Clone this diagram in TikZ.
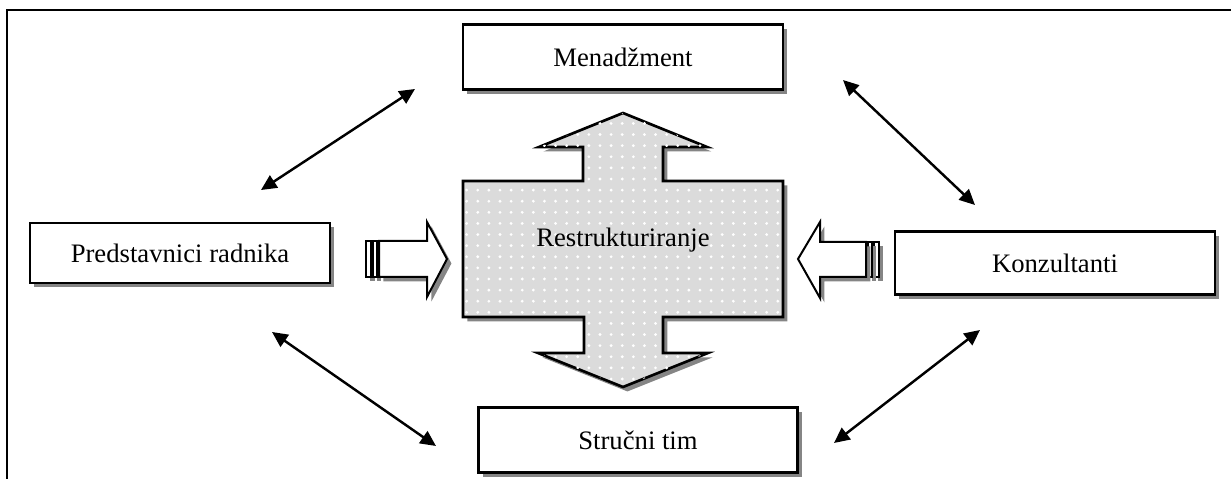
\documentclass[tikz,border=0pt]{standalone}
\usepackage{fontspec}
\setmainfont{Liberation Serif}
\usetikzlibrary{arrows.meta,shadows,patterns.meta}
\tikzdeclarepattern{
  name=sparsedots,
  type=uncolored,
  bounding box={(-2.5pt,-2.5pt) and (2.5pt,2.5pt)},
  tile size={(5pt,5pt)},
  code={\pgfpathcircle{\pgfpointorigin}{0.7pt}\pgfusepath{fill}}
}

\begin{document}
\begin{tikzpicture}[x=0.45pt, y=-0.45pt, line width=1.2pt,
  shade/.style={drop shadow={shadow xshift=2pt, shadow yshift=-2pt, fill=black!48, opacity=1}},
  box/.style={draw, fill=white, shade, font=\fontsize{12}{14}\selectfont},
  link/.style={line width=1.1pt, {Triangle[length=7pt,width=6.5pt]}-{Triangle[length=7pt,width=6.5pt]}},
  blockarrow/.style={draw, fill=white, line width=0.9pt, shade}]
			\useasboundingbox (0,0) rectangle (1231,479);
			\draw (1231,10) -- (7,10) -- (7,479);

			% boxes
			\node[box, minimum width=144pt, minimum height=29pt] (mgmt) at (623,57) {Menadžment};
			\node[box, minimum width=135pt, minimum height=27pt] (radnici) at (180,253) {Predstavnici radnika};
			\node[box, minimum width=144pt, minimum height=28.5pt] (konz) at (1055,263) {Konzultanti};
			\node[box, minimum width=143.5pt, minimum height=29.5pt] (tim) at (638,440) {Stručni tim};

			% central double arrow
			\draw[shade, fill=black!14, postaction={pattern=sparsedots, pattern color=white}]
				(463,181) -- (583,181) -- (583,147) -- (539,147) -- (623,113) -- (707,147) -- (663,147) -- (663,181)
				-- (783,181) -- (783,317) -- (663,317) -- (663,353) -- (708,353) -- (623,387) -- (538,353)
				-- (584,353) -- (584,317) -- (463,317) -- cycle;
			\node[font=\fontsize{12}{14}\selectfont] (restr) at (623,240) {Restrukturiranje};

			% side arrows
			\draw[blockarrow] (366,241) rectangle (371,277);
			\draw[blockarrow] (373,241) rectangle (377,277);
			\draw[blockarrow] (379,241) -- (427,241) -- (427,222) -- (447,259) -- (427,297) -- (427,277) -- (379,277) -- cycle;
			\draw[blockarrow] (874,242) rectangle (879,277);
			\draw[blockarrow] (868,242) rectangle (872,277);
			\draw[blockarrow] (866,242) -- (820,242) -- (820,222) -- (798,259) -- (820,298) -- (820,277) -- (866,277) -- cycle;

			% links
			\coordinate (radUp) at (261,190);
			\coordinate (mgmtL) at (415,89);
			\coordinate (mgmtR) at (843,80);
			\coordinate (konzUp) at (975,205);
			\coordinate (radDown) at (272,332);
			\coordinate (timL) at (436,446);
			\coordinate (timR) at (834,443);
			\coordinate (konzDown) at (980,330);
			\draw[link] (radUp) -- (mgmtL);
			\draw[link] (mgmtR) -- (konzUp);
			\draw[link] (radDown) -- (timL);
			\draw[link] (timR) -- (konzDown);
\end{tikzpicture}
\end{document}
